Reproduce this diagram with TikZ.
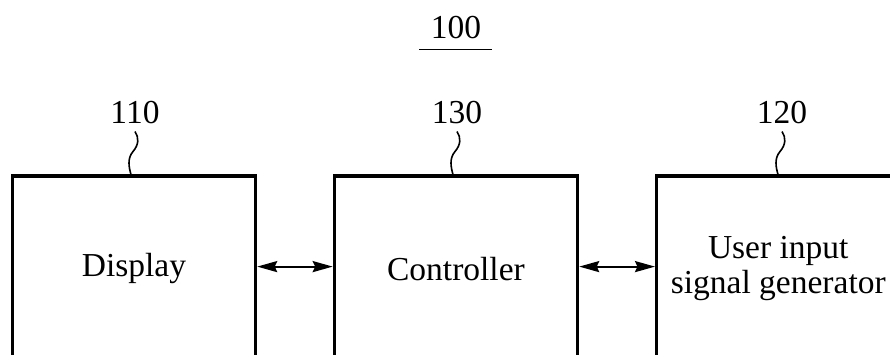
\documentclass[tikz,border=0pt]{standalone}
\usepackage{fontspec}
\setmainfont{Liberation Serif}
\usetikzlibrary{arrows.meta,calc}
\begin{document}
\begin{tikzpicture}[x=1pt,y=-1pt,
  blockbox/.style={draw=black,line width=3.2pt,minimum width=243.3pt,minimum height=185.4pt,
    anchor=north west,inner sep=0pt,align=center,font=\fontsize{33.5}{35}\selectfont},
  reflabel/.style={inner sep=0pt,font=\fontsize{33.5}{35}\selectfont},
  leader/.style={draw=black,line width=1.6pt},
  biarrow/.style={draw=black,line width=2.2pt,
    {Stealth[length=20pt,width=11pt,inset=2.5pt]}-{Stealth[length=20pt,width=11pt,inset=2.5pt]}},
  uline/.style={draw=black,line width=1.8pt}]
\useasboundingbox (0,0) rectangle (890,354);
% reference numerals
\node[reflabel] (l100) at (456,28) {100};
\draw[uline] ($(l100.south)+(-37,10)$) -- ($(l100.south)+(36,10)$);
\node[reflabel] (l110) at (135,112.5) {110};
\node[reflabel] (l130) at (457,112.5) {130};
\node[reflabel] (l120) at (782,112.5) {120};
% blocks
\node[blockbox] (disp) at (10.7,174.3) {Display};
\node[blockbox] (ctrl) at (332.7,174.3) {Controller};
\node[blockbox] (user) at (655,174.3) {User input\\signal generator};
% leader lines
\foreach \l in {l110,l130,l120}{
  \draw[leader] (\l.south) ++(0,7.5) .. controls +(4,6) and +(6,-7) .. ++(-2,20)
     .. controls +(-6,7) and +(-2,-7) .. ++(-2,23);
}
% connectors
\draw[biarrow] ([yshift=2pt]disp.east) -- ([yshift=2pt]ctrl.west);
\draw[biarrow] ([yshift=2pt]ctrl.east) -- ([yshift=2pt]user.west);
\end{tikzpicture}
\end{document}
